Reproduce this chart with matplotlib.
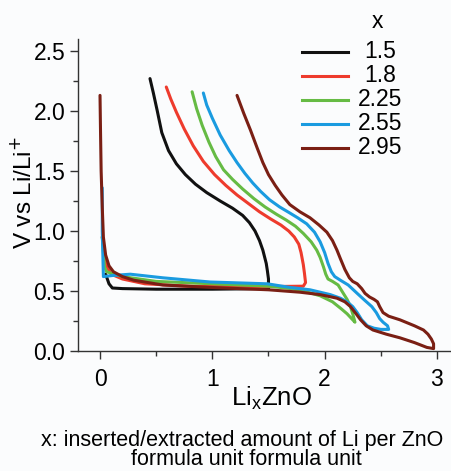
import matplotlib
matplotlib.use("Agg")
import matplotlib.pyplot as plt
from matplotlib.ticker import MultipleLocator

plt.rcParams['font.family'] = ['Liberation Sans', 'DejaVu Sans']

labels = ["1.5", "1.8", "2.25", "2.55", "2.95"]
colors = ["#111111", "#ee3b2d", "#66bb44", "#1a9be0", "#7a1f14"]

# x = 1.5 (discharge then charge)
x_15 = [0.05, 0.08, 0.11, 0.2, 0.5, 1.0, 1.5,
        1.50, 1.50, 1.49, 1.48, 1.45, 1.42, 1.38, 1.33, 1.27, 1.18, 1.07, 0.95, 0.85, 0.76, 0.68, 0.61, 0.55, 0.51, 0.475, 0.445]
y_15 = [0.64, 0.56, 0.525, 0.52, 0.515, 0.515, 0.52,
        0.55, 0.60, 0.67, 0.73, 0.84, 0.92, 1.00, 1.07, 1.13, 1.19, 1.25, 1.32, 1.39, 1.47, 1.56, 1.67, 1.82, 2.00, 2.15, 2.27]

# x = 1.8
x_18 = [0.02, 0.05, 0.1, 0.2, 0.4, 0.8, 1.3, 1.81,
        1.83, 1.82, 1.81, 1.79, 1.77, 1.73, 1.68, 1.61, 1.52, 1.42, 1.32, 1.22, 1.12, 1.02, 0.92, 0.83, 0.75, 0.68, 0.63, 0.59]
y_18 = [0.95, 0.72, 0.64, 0.60, 0.56, 0.54, 0.535, 0.54,
        0.57, 0.65, 0.72, 0.82, 0.89, 0.95, 1.00, 1.05, 1.10, 1.16, 1.23, 1.30, 1.38, 1.47, 1.58, 1.71, 1.85, 1.99, 2.10, 2.20]

# x = 2.25
x_225 = [0.02, 0.04, 0.06, 0.2, 0.5, 1.0, 1.5, 1.7, 1.85, 1.96, 2.07, 2.15, 2.2, 2.24, 2.27,
         2.25, 2.23, 2.20, 2.16, 2.12, 2.07, 2.03, 2.01, 1.99, 1.96, 1.93, 1.88, 1.81, 1.74, 1.66, 1.57,
         1.47, 1.37, 1.27, 1.18, 1.10, 1.03, 0.97, 0.91, 0.86, 0.82]
y_225 = [0.95, 0.70, 0.66, 0.62, 0.58, 0.56, 0.54, 0.52, 0.49, 0.46, 0.41, 0.35, 0.31, 0.27, 0.24,
         0.31, 0.37, 0.43, 0.49, 0.55, 0.58, 0.60, 0.64, 0.70, 0.78, 0.84, 0.91, 0.98, 1.04, 1.09, 1.14,
         1.20, 1.27, 1.35, 1.43, 1.51, 1.62, 1.74, 1.88, 2.02, 2.16]

# x = 2.55
x_255 = [0.02, 0.02, 0.03, 0.12, 0.27, 0.56, 0.98, 1.49, 1.69, 1.87, 2.05, 2.14, 2.2, 2.25, 2.29, 2.33, 2.38, 2.44, 2.50, 2.57,
         2.56, 2.52, 2.49, 2.46, 2.42, 2.36, 2.29, 2.21, 2.14, 2.09, 2.06, 2.03, 2.00, 1.96, 1.91, 1.84, 1.76, 1.69,
         1.60, 1.51, 1.43, 1.36, 1.29, 1.22, 1.15, 1.07, 1.00, 0.95, 0.92]
y_255 = [1.36, 1.0, 0.62, 0.63, 0.64, 0.61, 0.575, 0.56, 0.53, 0.51, 0.47, 0.44, 0.41, 0.37, 0.32, 0.26, 0.21, 0.19, 0.18, 0.18,
         0.21, 0.24, 0.27, 0.32, 0.37, 0.42, 0.48, 0.55, 0.59, 0.62, 0.66, 0.73, 0.82, 0.91, 0.99, 1.06, 1.11, 1.15,
         1.20, 1.26, 1.33, 1.40, 1.48, 1.57, 1.67, 1.80, 1.94, 2.05, 2.15]

# x = 2.95
x_295 = [0.0, 0.005, 0.01, 0.02, 0.03, 0.05, 0.08, 0.12, 0.2, 0.3, 0.56, 0.98, 1.5, 1.78, 1.96, 2.11, 2.18, 2.23, 2.28,
         2.32, 2.37, 2.43, 2.55, 2.67, 2.80, 2.91, 2.97,
         2.97, 2.95, 2.92, 2.88, 2.80, 2.67, 2.57, 2.52, 2.49, 2.47, 2.44, 2.40, 2.36, 2.33, 2.29, 2.25, 2.22,
         2.18, 2.14, 2.11, 2.07, 2.02, 1.95, 1.87, 1.78, 1.69, 1.62, 1.56, 1.50, 1.45, 1.40, 1.34, 1.28, 1.22]
y_295 = [2.13, 1.8, 1.5, 1.2, 0.95, 0.80, 0.71, 0.66, 0.62, 0.59, 0.55, 0.53, 0.51, 0.49, 0.47, 0.44, 0.41, 0.37, 0.31,
         0.26, 0.21, 0.175, 0.14, 0.11, 0.07, 0.03, 0.02,
         0.06, 0.10, 0.14, 0.175, 0.21, 0.26, 0.29, 0.32, 0.37, 0.41, 0.43, 0.45, 0.48, 0.52, 0.56, 0.58, 0.61,
         0.68, 0.77, 0.84, 0.92, 0.99, 1.05, 1.11, 1.16, 1.22, 1.30, 1.38, 1.47, 1.57, 1.69, 1.84, 1.98, 2.13]

series_x = [x_15, x_18, x_225, x_255, x_295]
series_y = [y_15, y_18, y_225, y_255, y_295]

W, H = 452, 471
fig = plt.figure(figsize=(W / 100, H / 100), dpi=100)
fig.patch.set_facecolor("#fbfcfd")
ax = fig.add_axes([78 / W, 1 - 351 / H, (W - 78) / W, (351 - 39) / H])
ax.set_facecolor("#fbfcfd")

for xs, ys, c in zip(series_x, series_y, colors):
    ax.plot(xs, ys, color=c, lw=2.2, solid_joinstyle="round", solid_capstyle="round")

ax.set_xlim(-0.196, 3.134)
ax.set_ylim(0, 2.6)
ax.xaxis.set_major_locator(MultipleLocator(1))
ax.xaxis.set_minor_locator(MultipleLocator(0.5))
ax.yaxis.set_minor_locator(MultipleLocator(0.25))
ax.set_yticks([0, 0.5, 1.0, 1.5, 2.0, 2.5])
ax.set_yticklabels(["0.0", "0.5", "1.0", "1.5", "2.0", "2.5"])
for s in ["top", "right"]:
    ax.spines[s].set_visible(False)
for s in ["left", "bottom"]:
    ax.spines[s].set_color("#333333")
    ax.spines[s].set_linewidth(1.0)
ax.tick_params(which="major", direction="out", length=6, width=1.0, color="#333333", labelsize=16.5, pad=3)
ax.tick_params(which="minor", direction="out", length=3.5, width=1.0, color="#333333")
ax.tick_params(axis="x", which="major", pad=6)

# axis labels and caption
fig.text(24 / W, 1 - 192 / H, "V vs Li/Li$^{+}$", rotation=90, ha="center", va="center", fontsize=17.5)
fig.text(271 / W, 1 - 405 / H, "Li$_\\mathregular{x}$ZnO", ha="center", va="baseline", fontsize=18.5)
fig.text(242 / W, 1 - 446 / H, "x: inserted/extracted amount of Li per ZnO", ha="center", va="baseline", fontsize=15.5)
fig.text(246 / W, 1 - 465 / H, "formula unit formula unit", ha="center", va="baseline", fontsize=15.5)

# legend (drawn by hand so labels are centred like the reference)
fig.text(377 / W, 1 - 22 / H, "x", ha="center", va="center", fontsize=16.5)
rows = [52, 76, 100, 124, 148]
for lab, c, ry in zip(labels, colors, rows):
    fig.add_artist(plt.Line2D([302 / W, 348 / W], [1 - ry / H, 1 - ry / H], color=c, lw=2.2))
    fig.text(380 / W, 1 - ry / H, lab, ha="center", va="center", fontsize=16.5)

fig.savefig("out.png", dpi=100, facecolor=fig.get_facecolor())
